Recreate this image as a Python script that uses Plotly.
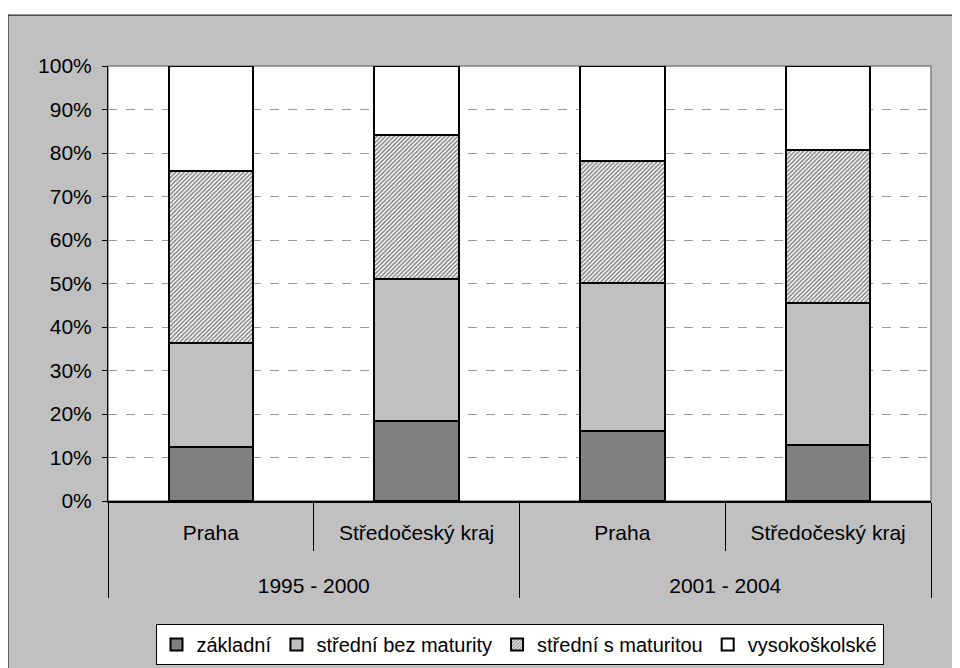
import plotly.graph_objects as go

periods = ["1995 - 2000", "1995 - 2000", "2001 - 2004", "2001 - 2004"]
regions = ["Praha", "Středočeský kraj", "Praha", "Středočeský kraj"]

zakladni = [12.4, 18.4, 16.1, 12.9]
stredni_bez = [23.9, 32.6, 34.0, 32.6]
stredni_s = [39.6, 33.2, 28.1, 35.3]
vysokoskolske = [24.1, 15.8, 21.8, 19.2]

y_ticks = [0, 10, 20, 30, 40, 50, 60, 70, 80, 90, 100]
y_labels = ["0%", "10%", "20%", "30%", "40%", "50%", "60%", "70%", "80%", "90%", "100%"]

FONT = "Liberation Sans, Arial, sans-serif"
# an empty spacer line under each region label deepens the first label row,
# which pushes the period row further down (as in the reference)
SPACER = "<br><span style='font-size:56px'> </span>"
x = [periods, [r + SPACER for r in regions]]

fig = go.Figure()
line = dict(color="black", width=2)
fig.add_trace(go.Bar(x=x, y=zakladni, name="základní",
                     marker=dict(color="#808080", line=line)))
fig.add_trace(go.Bar(x=x, y=stredni_bez, name="střední bez maturity",
                     marker=dict(color="#c0c0c0", line=line)))
fig.add_trace(go.Bar(x=x, y=stredni_s, name="střední s maturitou",
                     marker=dict(color="white", line=line,
                                 pattern=dict(shape="/", size=3, solidity=0.5,
                                              fgcolor="#808080", bgcolor="white",
                                              fillmode="replace"))))
fig.add_trace(go.Bar(x=x, y=vysokoskolske, name="vysokoškolské",
                     marker=dict(color="white", line=line)))

fig.update_layout(
    width=952, height=660,
    margin=dict(l=100, r=29, t=58, b=167, autoexpand=False),
    barmode="stack", bargap=0.59,
    paper_bgcolor="white", plot_bgcolor="rgba(0,0,0,0)",
    font=dict(family=FONT, size=20, color="black"),
    showlegend=True,
    legend=dict(orientation="h", x=0.5, xanchor="center", y=-0.283, yanchor="top",
                bgcolor="white", bordercolor="black", borderwidth=1,
                traceorder="normal", font=dict(size=20)),
    shapes=[
        dict(type="rect", xref="paper", yref="paper", x0=-0.1215, x1=1.3,
             y0=-0.6, y1=1.117, fillcolor="#c0c0c0",
             line=dict(color="black", width=1), layer="below"),
        dict(type="rect", xref="paper", yref="paper", x0=0, x1=1, y0=0, y1=1,
             fillcolor="white", line=dict(color="#808080", width=1.5), layer="below"),
    ],
)

fig.update_yaxes(range=[0, 100], tickvals=y_ticks, ticktext=y_labels,
                 showgrid=True, gridcolor="#9a9a9a", griddash="dash", gridwidth=1,
                 showline=True, linecolor="black", linewidth=1,
                 ticks="outside", ticklen=5, tickcolor="black",
                 zeroline=False, tickfont=dict(size=21), ticklabelstandoff=6)
fig.update_xaxes(showline=True, linecolor="black", linewidth=1.5,
                 ticks="outside", tickson="boundaries", ticklen=48,
                 tickcolor="black", dividercolor="black", dividerwidth=1,
                 tickfont=dict(size=21), ticklabelstandoff=12)

fig.write_html("out.html")
